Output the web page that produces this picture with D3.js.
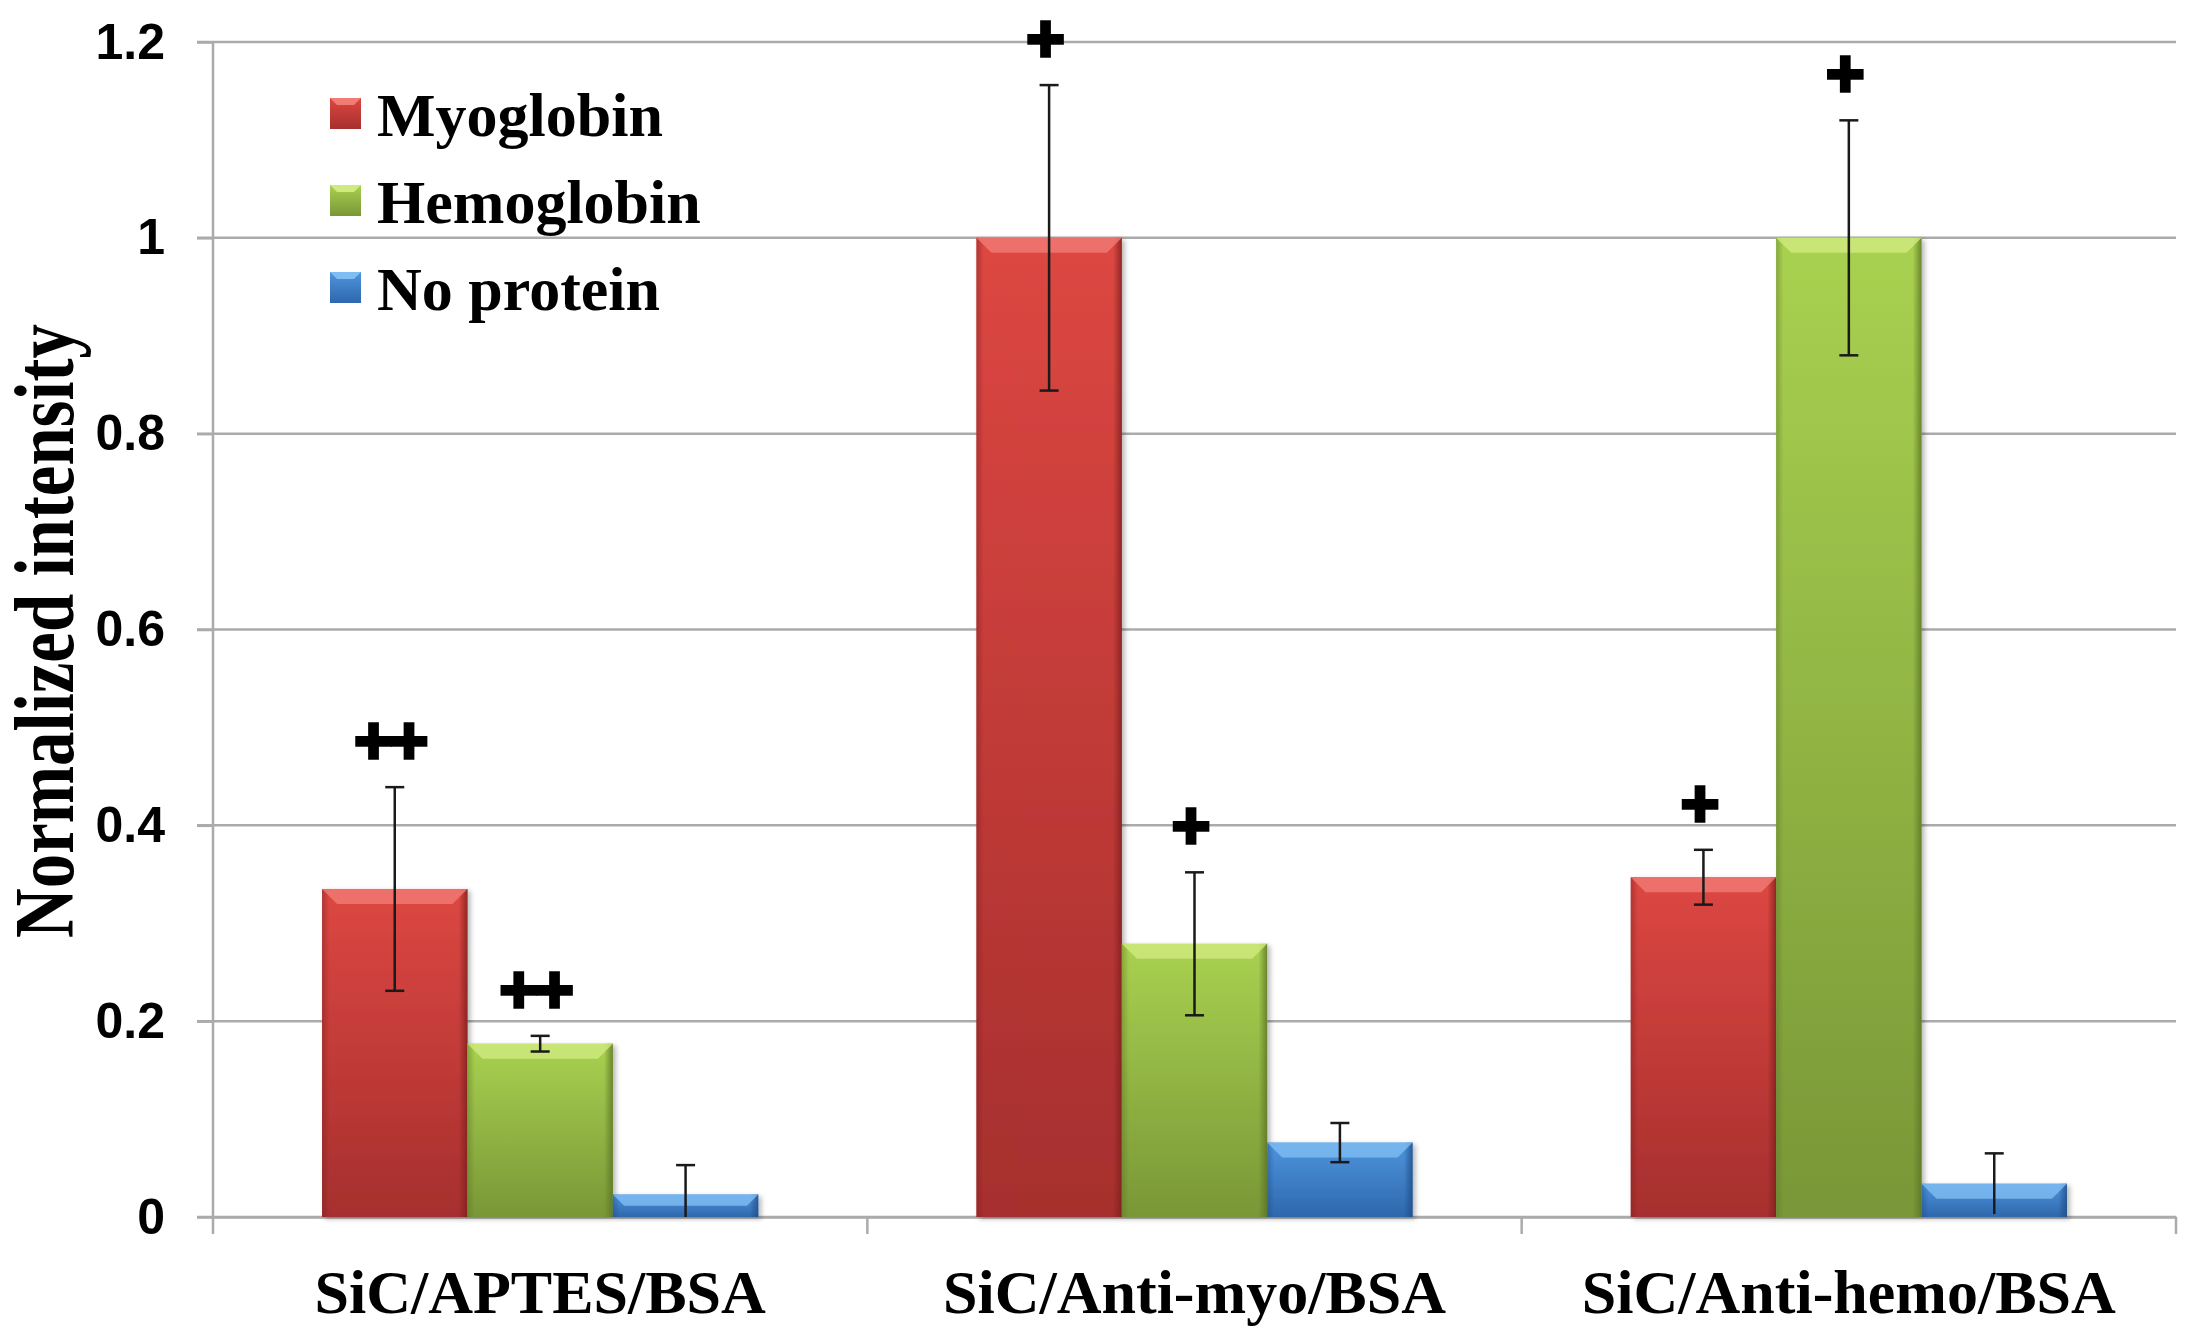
<!DOCTYPE html>
<html><head><meta charset="utf-8">
<script src="https://cdn.jsdelivr.net/npm/d3@7"></script>
<style>
html,body{margin:0;padding:0;background:#fff;}
svg{display:block;}
text{font-weight:bold;fill:#000;}
.serif{font-family:"Liberation Serif","Times New Roman",serif;}
.sans{font-family:"Liberation Sans",Arial,sans-serif;}
</style></head>
<body>
<svg id="chart" width="2194" height="1339"></svg>
<script>
const categories = ["SiC/APTES/BSA", "SiC/Anti-myo/BSA", "SiC/Anti-hemo/BSA"];
const seriesNames = ["Myoglobin", "Hemoglobin", "No protein"];
const myoglobin = [0.335, 1.0, 0.347];
const hemoglobin = [0.177, 0.279, 1.0];
const noProtein = [0.023, 0.076, 0.034];
const myoglobinErr = [0.104, 0.156, 0.028];
const hemoglobinErr = [0.008, 0.073, 0.120];
const noProteinErr = [0.030, 0.020, 0.031];
const myoglobinMarks = ["++", "+", "+"];
const hemoglobinMarks = ["++", "+", "+"];
const noProteinMarks = ["", "", ""];
const yTicks = [0, 0.2, 0.4, 0.6, 0.8, 1, 1.2];
const yTickLabels = ["0", "0.2", "0.4", "0.6", "0.8", "1", "1.2"];
const yTitle = "Normalized intensity";

const colors = {
  "Myoglobin": {top: "#dd4742", bot: "#a62f2e", light: "#f27b74", dark: "#7e1f1d"},
  "Hemoglobin": {top: "#a9d150", bot: "#799737", light: "#d0ea80", dark: "#5a7425"},
  "No protein": {top: "#4e95dd", bot: "#2e67ac", light: "#80bdf3", dark: "#1f4c84"}
};

const values = [myoglobin, hemoglobin, noProtein];
const errs = [myoglobinErr, hemoglobinErr, noProteinErr];
const marks = [myoglobinMarks, hemoglobinMarks, noProteinMarks];
const data = [];
categories.forEach((c, ci) => {
  seriesNames.forEach((s, si) => {
    data.push({cat: c, series: s, value: values[si][ci], err: errs[si][ci], mark: marks[si][ci]});
  });
});

const svg = d3.select("#chart");
const pL = 213, pR = 2176, pT = 42, pB = 1217;
const gridColor = "#ababab";

const x0 = d3.scaleBand().domain(categories).range([pL, pR]).paddingInner(0).paddingOuter(0);
const x1 = d3.scaleBand().domain(seriesNames).range([0, x0.bandwidth()]).paddingInner(0).paddingOuter(0.75);
const y = d3.scaleLinear().domain([0, 1.2]).range([pB, pT]);

const defs = svg.append("defs");
seriesNames.forEach((s, i) => {
  const g = defs.append("linearGradient").attr("id", "grad" + i).attr("x1", 0).attr("y1", 0).attr("x2", 0).attr("y2", 1);
  g.append("stop").attr("offset", "0%").attr("stop-color", colors[s].top);
  g.append("stop").attr("offset", "100%").attr("stop-color", colors[s].bot);
  const h = defs.append("linearGradient").attr("id", "side" + i).attr("x1", 0).attr("y1", 0).attr("x2", 1).attr("y2", 0);
  h.append("stop").attr("offset", "0%").attr("stop-color", colors[s].dark).attr("stop-opacity", 0.45);
  h.append("stop").attr("offset", "5%").attr("stop-color", colors[s].dark).attr("stop-opacity", 0.0);
  h.append("stop").attr("offset", "94%").attr("stop-color", colors[s].dark).attr("stop-opacity", 0.0);
  h.append("stop").attr("offset", "100%").attr("stop-color", colors[s].dark).attr("stop-opacity", 0.8);
});
const f = defs.append("filter").attr("id", "shadow").attr("x", "-10%").attr("y", "-10%").attr("width", "130%").attr("height", "130%");
f.append("feDropShadow").attr("dx", 3).attr("dy", 2).attr("stdDeviation", 2.5).attr("flood-color", "#000").attr("flood-opacity", 0.28);

// gridlines
svg.append("g").selectAll("line").data(yTicks).join("line")
  .attr("x1", pL - 16).attr("x2", pR)
  .attr("y1", d => y(d)).attr("y2", d => y(d))
  .attr("stroke", gridColor).attr("stroke-width", 2.5);

// y axis
const yAxis = d3.axisLeft(y).tickValues(yTicks).tickSize(16).tickPadding(32)
  .tickFormat((d, i) => yTickLabels[i]);
const ya = svg.append("g").attr("transform", `translate(${pL},0)`).call(yAxis);
ya.select(".domain").attr("stroke", gridColor).attr("stroke-width", 2.5).attr("d", `M0,${pT}V${pB}`);
ya.selectAll(".tick line").attr("stroke", gridColor).attr("stroke-width", 2.5);
ya.selectAll(".tick text").attr("class", "sans").style("font-size", "50px").attr("fill", "#000");

// x axis
const xa = svg.append("g").attr("transform", `translate(0,${pB})`)
  .call(d3.axisBottom(x0).tickSize(0).tickPadding(96));
xa.select(".domain").attr("stroke", gridColor).attr("stroke-width", 2.5);
xa.selectAll(".tick text").attr("class", "serif").style("font-size", "62px").attr("fill", "#000").attr("dy", 0);
const boundaries = categories.map(c => x0(c)).concat([x0(categories[categories.length - 1]) + x0.bandwidth()]);
svg.append("g").selectAll("line").data(boundaries).join("line")
  .attr("x1", d => d).attr("x2", d => d).attr("y1", pB).attr("y2", pB + 17)
  .attr("stroke", gridColor).attr("stroke-width", 2.5);

// bars
const bw = x1.bandwidth();
const bars = svg.append("g").selectAll("g.bar").data(data).join("g").attr("class", "bar")
  .attr("transform", d => `translate(${x0(d.cat) + x1(d.series)},0)`);
bars.append("rect").attr("x", 0).attr("width", bw)
  .attr("y", d => y(d.value)).attr("height", d => y(0) - y(d.value))
  .attr("fill", d => `url(#grad${seriesNames.indexOf(d.series)})`)
  .attr("filter", "url(#shadow)");
bars.append("rect").attr("x", 0).attr("width", bw)
  .attr("y", d => y(d.value)).attr("height", d => y(0) - y(d.value))
  .attr("fill", d => `url(#side${seriesNames.indexOf(d.series)})`);
bars.append("path")
  .attr("d", d => {
    const yt = y(d.value), h = Math.min(15, (y(0) - yt) / 2);
    return `M0,${yt}L${bw},${yt}L${bw - h},${yt + h}L${h},${yt + h}Z`;
  })
  .attr("fill", d => colors[d.series].light).attr("opacity", 0.8);

// error bars
const eb = svg.append("g").selectAll("g").data(data).join("g")
  .attr("transform", d => `translate(${x0(d.cat) + x1(d.series) + bw / 2},0)`);
eb.append("line").attr("x1", 0).attr("x2", 0)
  .attr("y1", d => y(d.value + d.err)).attr("y2", d => y(Math.max(0, d.value - d.err)))
  .attr("stroke", "#1a1a1a").attr("stroke-width", 2.5);
eb.append("line").attr("x1", -9.5).attr("x2", 9.5)
  .attr("y1", d => y(d.value + d.err)).attr("y2", d => y(d.value + d.err))
  .attr("stroke", "#1a1a1a").attr("stroke-width", 2.5);
eb.filter(d => d.value - d.err > 0.01).append("line").attr("x1", -9.5).attr("x2", 9.5)
  .attr("y1", d => y(d.value - d.err)).attr("y2", d => y(d.value - d.err))
  .attr("stroke", "#1a1a1a").attr("stroke-width", 2.5);
eb.append("text").attr("class", "sans").attr("text-anchor", "middle")
  .attr("x", -5)
  .attr("y", d => y(d.value + d.err) - 24)
  .style("font-size", "66px").attr("stroke", "#000").attr("stroke-width", 3.5)
  .attr("letter-spacing", -3)
  .text(d => d.mark);

// legend
const legend = svg.append("g").selectAll("g").data(seriesNames).join("g")
  .attr("transform", (d, i) => `translate(330,${113 + i * 87})`);
legend.append("rect").attr("x", 0).attr("y", -15).attr("width", 31).attr("height", 31)
  .attr("fill", (d, i) => `url(#grad${i})`);
legend.append("path").attr("d", "M0,-15L31,-15L24,-8L7,-8Z")
  .attr("fill", d => colors[d].light);
legend.append("text").attr("class", "serif").attr("x", 47).attr("y", 23).style("font-size", "62px").text(d => d);

// y title
svg.append("text").attr("class", "serif").attr("transform", `translate(73,631) rotate(-90) scale(0.82,1)`)
  .attr("text-anchor", "middle").style("font-size", "84px").text(yTitle);
</script>
</body></html>
